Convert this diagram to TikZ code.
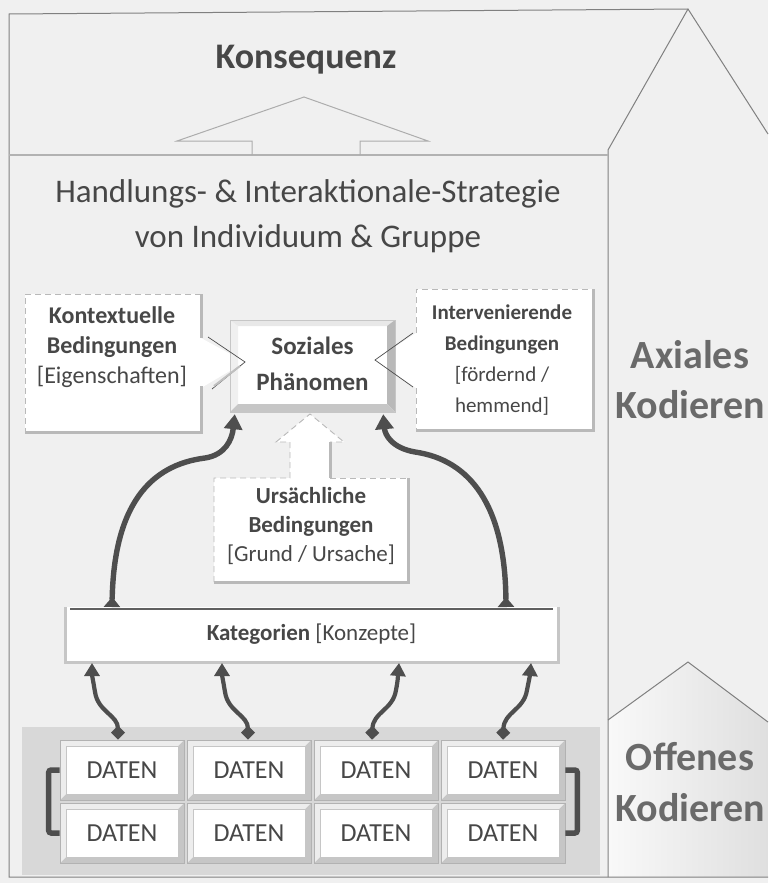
\documentclass[tikz,border=0pt]{standalone}
\usepackage{fontspec}
\setmainfont{Carlito}
\usetikzlibrary{arrows.meta,calc}
\definecolor{paper}{HTML}{F0F0F0}
\definecolor{ink}{HTML}{474747}
\definecolor{softink}{HTML}{6A6A6A}
\definecolor{frameline}{HTML}{808080}
\definecolor{arrowink}{HTML}{4E4E4E}
\definecolor{datagray}{HTML}{D8D8D8}

\begin{document}
\begin{tikzpicture}[x=1pt,y=-1pt,
  txt/.style={text=ink, inner sep=0pt, align=center},
  dashline/.style={draw=gray!55, dash pattern=on 6pt off 4pt, line width=0.9pt},
  shadowline/.style={draw=gray!55, line width=3pt},
  chev/.style={draw=black!70, line width=0.7pt},
  bigcurve/.style={draw=arrowink, line width=5.4pt,
    {Triangle[reversed,length=10pt,width=16pt]}-{Triangle[length=15pt,width=18pt]}},
  wavy/.style={draw=arrowink, line width=4.2pt,
    {Diamond[length=14pt,width=14pt]}-{Triangle[length=13pt,width=15pt]}},
  bracket/.style={draw=arrowink, line width=5.5pt, rounded corners=2.5pt},
  datatile/.style={minimum width=124pt, minimum height=60pt, inner sep=0pt,
    text=ink, font=\fontsize{26}{26}\selectfont,
    fill=gray!45, draw=gray!60, line width=0.6pt,
    path picture={
      \path (path picture bounding box.south west) coordinate (psw)
            (path picture bounding box.north east) coordinate (pne)
            (path picture bounding box.north west) coordinate (pnw);
      \fill[gray!14] (psw) -- (pnw) -- (pne) -- ([xshift=-6pt,yshift=-6pt]pne)
        -- ([xshift=6pt,yshift=-6pt]pnw) -- ([xshift=6pt,yshift=6pt]psw) -- cycle;
      \fill[white] ([xshift=6pt,yshift=6pt]psw) rectangle ([xshift=-6pt,yshift=-6pt]pne);
      \draw[gray!45, line width=0.5pt] ([xshift=6pt,yshift=6pt]psw) rectangle ([xshift=-6pt,yshift=-6pt]pne);
    }},
]
\useasboundingbox (0,0) rectangle (768,883);
\fill[paper] (0,0) rectangle (768,883);

% shaded foot of the right-hand column
\shade[left color=white!60!paper, right color=gray!25]
  (608,720) -- (688,662) -- (768,722) -- (768,877) -- (608,877) -- cycle;

% outer house outline
\draw[frameline, line width=1pt, line join=miter]
  (768,134) -- (688,9) -- (9,14) -- (9,877) -- (768,877);
\draw[frameline, line width=1pt] (688,9) -- (608,150) -- (608,877);
\draw[frameline, line width=1pt] (608,720) -- (688,662) -- (768,722);
\draw[gray!60, line width=2pt] (9,155) -- (608,155);

% small block arrow towards the consequence
\draw[gray!65, line width=1pt, line join=miter]
  (252,155) -- (252,141) -- (177,141) -- (304,97) -- (428,141) -- (360,141) -- (360,155);

\node[txt, font=\bfseries\fontsize{36}{36}\selectfont] (konsequenz) at (306,60) {Konsequenz};
\node[txt, font=\fontsize{33}{45}\selectfont] (strategie) at (308,216)
  {Handlungs- \& Interaktionale-Strategie\\von Individuum \& Gruppe};

% context conditions box with pointer
\fill[white] (25,294) -- (201,294) -- (201,338) -- (245,362) -- (201,388) -- (201,432) -- (25,432) -- cycle;
\draw[dashline] (201,294) -- (25,294) -- (25,432);
\draw[shadowline] (201,294) -- (201,338);
\draw[shadowline] (201,386) -- (201,432) -- (25,432);

% intervening conditions box with pointer
\fill[white] (416,289) -- (593,289) -- (593,430) -- (416,430) -- (416,388) -- (375,360) -- (416,333) -- cycle;
\draw[dashline] (416,333) -- (416,289) -- (593,289);
\draw[dashline] (416,388) -- (416,430);
\draw[shadowline] (593,289) -- (593,430) -- (416,430);

% causal conditions box with upward block arrow
\fill[white] (214,478) -- (290,478) -- (290,442) -- (276,442) -- (310,414) -- (344,442) -- (330,442)
  -- (330,478) -- (408,478) -- (408,582) -- (214,582) -- cycle;
\draw[dashline] (214,582) -- (214,478) -- (290,478) -- (290,442) -- (276,442) -- (310,414) -- (344,442) -- (330,442);
\draw[dashline] (330,478) -- (408,478);
\draw[shadowline] (330,442) -- (330,478);
\draw[shadowline] (408,478) -- (408,582) -- (214,582);

% bevelled phenomenon box
\fill[white] (230,320) rectangle (395,412);
\fill[gray!12] (230,320) -- (230,412) -- (238,404) -- (238,326) -- cycle;
\fill[gray!18] (230,320) -- (395,320) -- (387,326) -- (238,326) -- cycle;
\fill[gray!55] (395,320) -- (395,412) -- (387,404) -- (387,326) -- cycle;
\fill[gray!45] (230,412) -- (395,412) -- (387,404) -- (238,404) -- cycle;
\draw[gray!45, line width=0.5pt] (230,320) rectangle (395,412);

% pointer outlines
\draw[chev] (208,337) -- (245,362) -- (212,389);
\draw[gray!50, line width=2pt] (214,386) -- (240,366);
\draw[chev] (413,333) -- (375,360) -- (413,387);

\node[txt, minimum width=165pt, minimum height=92pt, font=\bfseries\fontsize{25}{36}\selectfont]
  (soz) at (312.5,364) {Soziales\\Phänomen};
\node[txt, font=\fontsize{24}{30}\selectfont] (kontext) at (112,347)
  {\textbf{Kontextuelle}\\\textbf{Bedingungen}\\{[Eigenschaften]}};
\node[txt, font=\fontsize{21}{31}\selectfont] (interv) at (502,360)
  {\textbf{Intervenierende}\\\textbf{Bedingungen}\\{[fördernd /}\\{hemmend]}};
\node[txt, font=\fontsize{23}{29}\selectfont] (ursache) at (311,526)
  {\textbf{Ursächliche}\\\textbf{Bedingungen}\\{[Grund / Ursache]}};

% categories bar
\fill[white] (65,607) rectangle (558,662);
\draw[gray!45, line width=3pt] (65,607) -- (65,662) -- (558,662) -- (558,607);
\draw[gray!75!black, line width=1.6pt] (70,609) -- (553,609);
\node[txt, minimum width=493pt, minimum height=55pt, font=\fontsize{23}{23}\selectfont]
  (kat) at (311.5,634.5) {\textbf{Kategorien} [Konzepte]};

% data field
\fill[datagray] (22,727) rectangle (600,875);
\foreach \c/\x in {1/122,2/249,3/376,4/503}{
  \node[datatile] (d1\c) at (\x,770) {DATEN};
  \node[datatile] (d2\c) at (\x,833) {DATEN};
}

% big arrows from the categories to the phenomenon
\coordinate (k1) at (112,607);
\coordinate (k2) at (506,607);
\draw[bigcurve] (k1) .. controls (114,505) and (150,465) .. (205,458)
  .. controls (225,455) and (232,440) .. ([xshift=5pt,yshift=-4pt]soz.south west);
\draw[bigcurve] (k2) .. controls (505,505) and (470,460) .. (415,452)
  .. controls (392,448) and (385,435) .. ([xshift=-12pt,yshift=-4pt]soz.south east);

% wavy arrows from the data to the categories
\coordinate (t1) at (92,663);
\coordinate (t2) at (222,663);
\coordinate (t3) at (399,663);
\coordinate (t4) at (531,663);
\draw[wavy] ([xshift=-4pt]d11.north) .. controls (118,715) and (98,712) .. (95,692)
  .. controls (93,680) and (92,675) .. (t1);
\draw[wavy] ([xshift=-1pt]d12.north) .. controls (248,715) and (228,712) .. (225,692)
  .. controls (223,680) and (222,675) .. (t2);
\draw[wavy] ([xshift=-4pt]d13.north) .. controls (373,712) and (393,710) .. (396,690)
  .. controls (398,680) and (398,675) .. (t3);
\draw[wavy] (d14.north) .. controls (504,712) and (524,710) .. (527,690)
  .. controls (529,680) and (530,675) .. (t4);

% brackets joining the two data rows
\draw[bracket] (d11.west) -- ++(-11,0) |- (d21.west);
\draw[bracket] (d14.east) -- ++(12,0) |- (d24.east);

% coding stages
\node[txt, text=softink, font=\bfseries\fontsize{40}{50}\selectfont] (axial) at (690,380) {Axiales\\Kodieren};
\node[txt, text=softink, font=\bfseries\fontsize{40}{51}\selectfont] (offen) at (690,782) {Offenes\\Kodieren};
\end{tikzpicture}
\end{document}
